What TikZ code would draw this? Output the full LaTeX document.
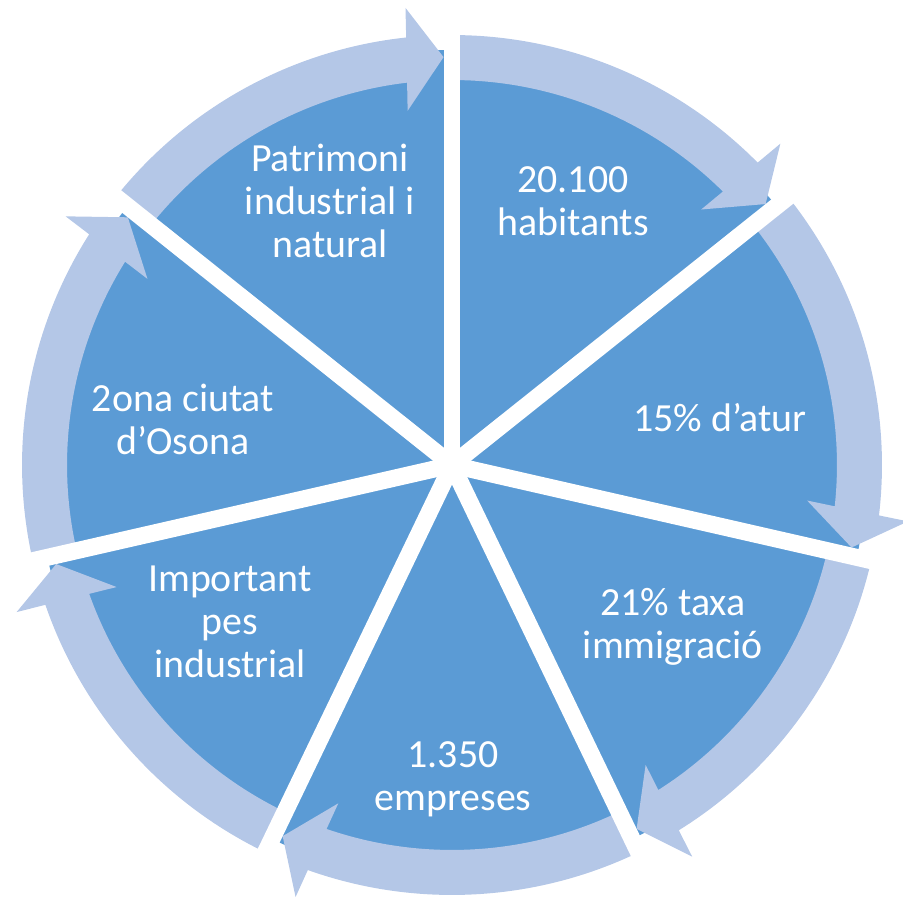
\documentclass[tikz,border=0pt]{standalone}
\usepackage{fontspec}
\setmainfont{Carlito}

\definecolor{segblue}{RGB}{91,155,213}
\definecolor{ringblue}{RGB}{180,199,231}

\tikzset{
	segtext/.style={text=white, align=center, font=\fontsize{22.7}{24.4}\selectfont},
	ringarrow/.style={fill=ringblue},
	gapline/.style={draw=white, line width=0.34cm}
}

\begin{document}
\begin{tikzpicture}[x=0.02cm, y=0.02cm]
		\useasboundingbox (-452,-434) rectangle (451,465);
		\coordinate (origin) at (0,0);

		% draw the pie
		\fill [segblue] (origin) circle (415);

		% draw the arrows round the pie, one for each segment
		\foreach \k in {0,...,6} {
			\pgfmathsetmacro{\tip}{90 - (\k+1)*360/7 + 1.19}
			\begin{scope}[rotate=\tip]
				\fill [ringarrow] (50.24:430) arc [start angle=50.24, end angle=4.93, radius=430]
					-- (458,37) -- (408,0) -- (355,37)
					-- (5.51:385) arc [start angle=5.51, end angle=50.24, radius=385] -- cycle;
			\end{scope}
		}

		% cut the gaps between the segments
		\foreach \k in {0,...,6} {
			\draw [gapline] (origin) -- ({90 - \k*360/7}:470);
		}

		% draw the texts
		\node [segtext] (habitants) at (121,264) {20.100\\habitants};
		\node [segtext] (atur) at (268,47) {15\% d’atur};
		\node [segtext] (immigracio) at (221,-162) {21\% taxa\\immigració};
		\node [segtext] (empreses) at (1,-314) {1.350\\empreses};
		\node [segtext] (pes) at (-222,-157) {Important\\pes\\industrial};
		\node [segtext] (osona) at (-269,46) {2ona ciutat\\d’Osona};
		\node [segtext] (patrimoni) at (-122,264) {Patrimoni\\industrial i\\natural};
\end{tikzpicture}
\end{document}
